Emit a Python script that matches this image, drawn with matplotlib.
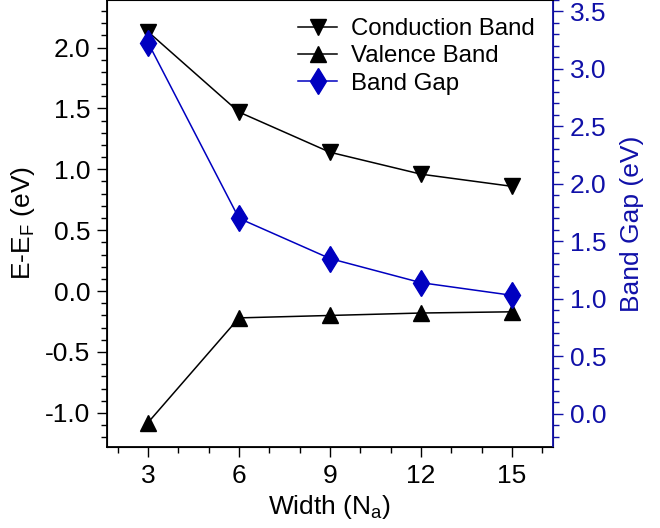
import matplotlib
matplotlib.use("Agg")
import matplotlib.pyplot as plt
from matplotlib.ticker import MultipleLocator, FormatStrFormatter

plt.rcParams['font.family'] = ['Liberation Sans', 'DejaVu Sans']
plt.rcParams['axes.unicode_minus'] = False

width = [3, 6, 9, 12, 15]
conduction = [2.13, 1.47, 1.14, 0.96, 0.86]
valence = [-1.08, -0.22, -0.20, -0.18, -0.17]
band_gap = [3.23, 1.70, 1.35, 1.14, 1.03]

blue = "#1010A8"

fig = plt.figure(figsize=(6.6, 5.28), dpi=100)
ax = fig.add_axes([107 / 660, 1 - 447 / 528, 446 / 660, 447 / 528])
ax2 = ax.twinx()

l1, = ax.plot(width, conduction, color="black", lw=1.1, marker="v", ms=12, label="Conduction Band")
l2, = ax.plot(width, valence, color="black", lw=1.1, marker="^", ms=12, label="Valence Band")
l3, = ax2.plot(width, band_gap, color="#0000C0", lw=1.1, marker="d", ms=13, label="Band Gap")

ax.set_xlim(1.65, 16.35)
ax.set_ylim(-1.28, 2.39)
ax2.set_ylim(-0.29, 3.60)

ax.xaxis.set_major_locator(MultipleLocator(3))
ax.xaxis.set_minor_locator(MultipleLocator(1))
ax.yaxis.set_major_locator(MultipleLocator(0.5))
ax.yaxis.set_minor_locator(MultipleLocator(0.1))
ax2.yaxis.set_major_locator(MultipleLocator(0.5))
ax2.yaxis.set_minor_locator(MultipleLocator(0.1))

ax.yaxis.set_major_formatter(FormatStrFormatter("%.1f"))
ax2.yaxis.set_major_formatter(FormatStrFormatter("%.1f"))

ax.tick_params(axis="both", which="major", direction="out", length=7, width=1,
               labelsize=19, pad=5)
ax.tick_params(axis="both", which="minor", direction="out", length=4, width=1)
ax.tick_params(axis="x", top=False, which="both")
ax2.tick_params(axis="y", which="major", direction="out", length=7, width=1,
                colors=blue, labelsize=19, pad=5)
ax2.tick_params(axis="y", which="minor", direction="out", length=4, width=1, colors=blue)
ax2.spines["right"].set_color(blue)
ax2.spines["right"].set_linewidth(1.3)
for s in ["left", "bottom", "top"]:
    ax.spines[s].set_linewidth(1.3)

ax.set_xlabel("Width (N$_\\mathregular{a}$)", fontsize=19, labelpad=4)
ax.set_ylabel("E-E$_\\mathregular{F}$ (eV)", fontsize=19, labelpad=6)
ax2.set_ylabel("Band Gap (eV)", fontsize=19, color=blue, labelpad=10)

ax.legend(handles=[l1, l2, l3], loc="upper right", frameon=False, fontsize=17.3,
          handlelength=1.6, handletextpad=0.6, labelspacing=0.22,
          borderaxespad=0.35, bbox_to_anchor=(1.0, 1.0))

fig.savefig("out.png", dpi=100)
